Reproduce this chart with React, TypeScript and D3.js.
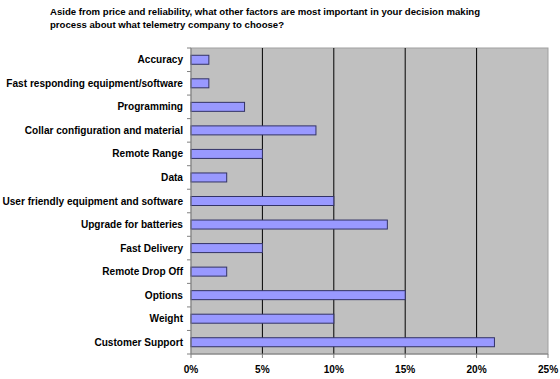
import React from "react";
import * as d3 from "d3";

const categories = [
  "Accuracy",
  "Fast responding equipment/software",
  "Programming",
  "Collar configuration and material",
  "Remote Range",
  "Data",
  "User friendly equipment and software",
  "Upgrade for batteries",
  "Fast Delivery",
  "Remote Drop Off",
  "Options",
  "Weight",
  "Customer Support",
];
const values = [1.25, 1.25, 3.75, 8.75, 5, 2.5, 10, 13.75, 5, 2.5, 15, 10, 21.25];
const xTicks = [0, 5, 10, 15, 20, 25];
const titleLines = [
  "Aside from price and reliability, what other factors are most important in your decision making",
  "process about what telemetry company to choose?",
];

export default function App() {
  const W = 560, H = 379;
  const left = 191, right = 548, top = 48, bottom = 354;
  const x = d3.scaleLinear().domain([0, 25]).range([left, right]);
  const y = d3.scaleBand().domain(categories).range([top, bottom]);
  const barH = 9;
  const font = "Arial, 'Liberation Sans', sans-serif";
  const bounds = d3.range(categories.length + 1).map((i) => top + i * y.step());
  return (
    <svg width={W} height={H} style={{ position: "absolute", left: 0, top: 0 }}>
      <rect x={0} y={0} width={W} height={H} fill="#fff" />
      {titleLines.map((t, i) => (
        <text key={i} x={50} y={15 + i * 13} fontFamily={font} fontWeight="bold" fontSize={9.6} fill="#000">
          {t}
        </text>
      ))}
      <rect x={left} y={top} width={right - left} height={bottom - top} fill="#c0c0c0" stroke="#a0a0a0" strokeWidth={1} />
      {xTicks.slice(1, -1).map((t) => (
        <line key={t} x1={x(t)} x2={x(t)} y1={top} y2={bottom} stroke="#000" strokeWidth={1} />
      ))}
      {categories.map((c, i) => (
        <rect
          key={c}
          x={left}
          y={(y(c) as number) + y.bandwidth() / 2 - barH / 2}
          width={x(values[i]) - left}
          height={barH}
          fill="#9999ff"
          stroke="#333366"
          strokeWidth={1}
        />
      ))}
      <line x1={left} x2={left} y1={top} y2={bottom} stroke="#808080" />
      <line x1={left} x2={right} y1={bottom} y2={bottom} stroke="#808080" />
      {bounds.map((b, i) => (
        <line key={i} x1={left - 4} x2={left} y1={b} y2={b} stroke="#808080" />
      ))}
      {xTicks.map((t) => (
        <line key={t} x1={x(t)} x2={x(t)} y1={bottom} y2={bottom + 4} stroke="#808080" />
      ))}
      {categories.map((c) => (
        <text
          key={c}
          x={left - 8}
          y={(y(c) as number) + y.bandwidth() / 2}
          dy="0.35em"
          textAnchor="end"
          fontFamily={font}
          fontWeight="bold"
          fontSize={10.1}
          fill="#000"
        >
          {c}
        </text>
      ))}
      {xTicks.map((t) => (
        <text key={t} x={x(t)} y={373} textAnchor="middle" fontFamily={font} fontWeight="bold" fontSize={10.1} fill="#000">
          {t}%
        </text>
      ))}
    </svg>
  );
}
